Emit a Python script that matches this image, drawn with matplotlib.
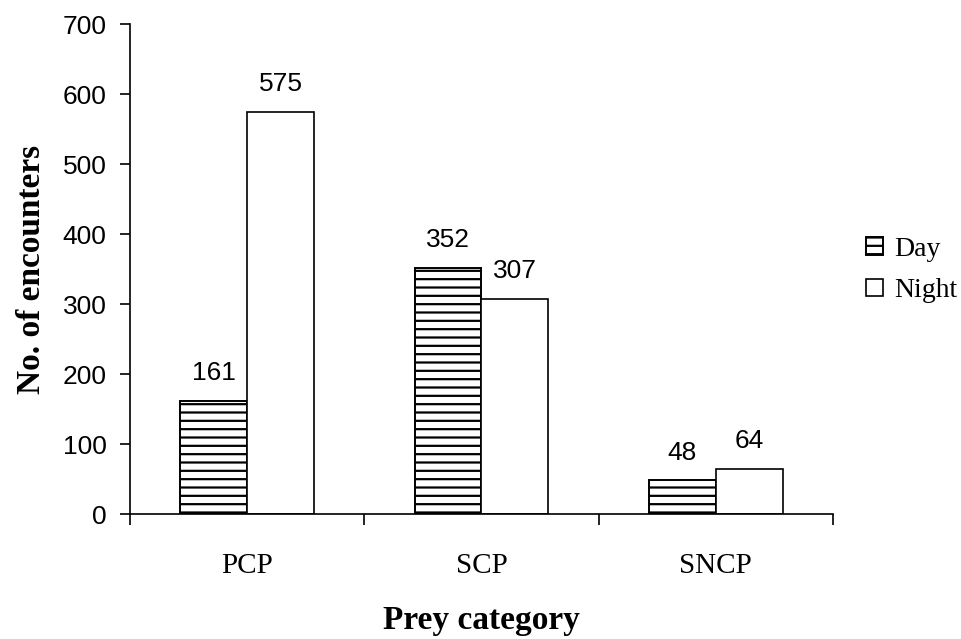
import matplotlib.pyplot as plt
import numpy as np

categories = ['PCP', 'SCP', 'SNCP']
day = [161, 352, 48]
night = [575, 307, 64]
series_names = ['Day', 'Night']

plt.rcParams['hatch.linewidth'] = 1.6

fig = plt.figure(figsize=(9.62, 6.39), dpi=100)
ax = fig.add_axes([130 / 962, 1 - 514 / 639, (833 - 130) / 962, (514 - 24) / 639])

x = np.arange(len(categories))
w = 1 / 3.5
b1 = ax.bar(x - w / 2, day, w, facecolor='white', edgecolor='black', hatch='--', linewidth=1.4, label=series_names[0])
b2 = ax.bar(x + w / 2, night, w, facecolor='white', edgecolor='black', linewidth=1.2, label=series_names[1])

for bars, vals in [(b1, day), (b2, night)]:
    for r, v in zip(bars, vals):
        ax.annotate(str(v), (r.get_x() + r.get_width() / 2, v), xytext=(0, 15), textcoords='offset points',
                    ha='center', va='baseline', fontsize=19, family='Liberation Sans')

ax.set_xlim(-0.5, 2.5)
ax.set_ylim(0, 700)
ax.set_yticks(range(0, 701, 100))
ax.set_xticks(np.arange(-0.5, 3, 1))
ax.set_xticklabels([])
ax.set_xticks(x, minor=True)
ax.set_xticklabels(categories, minor=True, fontsize=21, family='Liberation Serif')
ax.tick_params(axis='x', which='minor', length=0, pad=28)
ax.tick_params(axis='x', which='major', length=8, width=1.2, direction='out')
ax.tick_params(axis='y', length=7, width=1.2, direction='out', labelsize=19, pad=10)
for lab in ax.get_yticklabels():
    lab.set_family('Liberation Sans')

for s in ['top', 'right']:
    ax.spines[s].set_visible(False)
for s in ['left', 'bottom']:
    ax.spines[s].set_linewidth(1.2)

ax.set_xlabel('Prey category', fontsize=24, fontweight='bold', family='Liberation Serif')
ax.set_ylabel('No. of encounters', fontsize=24, fontweight='bold', family='Liberation Serif')
ax.xaxis.set_label_coords(0.5, (514 - 605) / 490)
ax.yaxis.set_label_coords((47 - 130) / 703, 0.5)

ax.legend(loc='center left', bbox_to_anchor=(866 / 962, 1 - 270 / 639), bbox_transform=fig.transFigure,
          frameon=False, borderpad=0, borderaxespad=0, handlelength=0.6, handleheight=0.6,
          handletextpad=0.4, labelspacing=0.6, prop={'family': 'Liberation Serif', 'size': 20})

fig.savefig('out.png', dpi=100)
